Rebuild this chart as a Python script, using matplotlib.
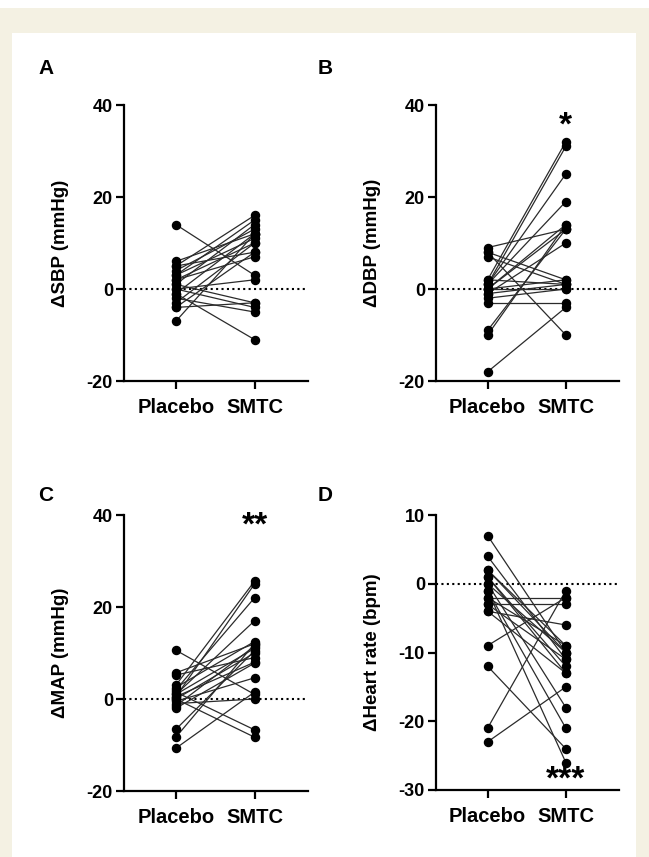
import numpy as np
import matplotlib
matplotlib.use('Agg')
import matplotlib.pyplot as plt

plt.rcParams['font.family'] = ['Liberation Sans', 'DejaVu Sans']
plt.rcParams['font.weight'] = 'bold'
plt.rcParams['axes.unicode_minus'] = False

groups = ['Placebo', 'SMTC']

# paired values per subject
sbp_placebo = [14, 6, 5, 5, 4, 3, 3, 2, 2, 1, 1, 0, 0, -1, -1, -2, -3, -4, -4, -7]
sbp_smtc = [3, 12, 16, 8, 13, 15, 11, 7, 10, -3, 14, 2, -4, 12, -11, -5, 10, 8, -3, 12]

dbp_placebo = [9, 8, 8, 7, 2, 1, 1, 1, 0, 0, 0, -1, -1, -2, -3, -9, -10, -18, 2, 0]
dbp_smtc = [13, -10, 2, 1, 32, 31, 25, 19, 14, 13, 2, 10, 1, 0, -3, 13, 14, -4, 1, 0]

map_placebo = [10.6, 5.7, 5.2, 3, 2.5, 2, 1.5, 1, 1, 0.5, 0, 0, -0.5, -1, -1.5, -2, -6.6, -8.3, -10.7, 0.5]
map_smtc = [1, 12, 9, 25.6, 12.5, 22, -6.7, 11, 17, 8, 10, -8.3, 4.6, 0, 11.5, 7.8, 10.5, 12, 1.5, 25]

hr_placebo = [7, 4, 2, 1, 0, 0, -1, -1, -3, -3, -4, -4, -9, -12, -21, -23, 2, -2, 1, -2]
hr_smtc = [-10, -11, -9, -13, -18, -10, -21, -26, -3, -11, -6, -13, -2, -24, -1, -15, -10, -9, -12, -2]

panels = [
    ('A', 'ΔSBP (mmHg)', sbp_placebo, sbp_smtc, (-20, 40), [-20, 0, 20, 40], '', None),
    ('B', 'ΔDBP (mmHg)', dbp_placebo, dbp_smtc, (-20, 40), [-20, 0, 20, 40], '*', 35.5),
    ('C', 'ΔMAP (mmHg)', map_placebo, map_smtc, (-20, 40), [-20, 0, 20, 40], '**', 37.5),
    ('D', 'ΔHeart rate (bpm)', hr_placebo, hr_smtc, (-30, 10), [-30, -20, -10, 0, 10], '***', -28.6),
]

W, H = 649, 857
fig = plt.figure(figsize=(W / 100, H / 100), dpi=100)
fig.patch.set_facecolor('white')

# beige frame with white card
bg = fig.add_axes([0, 0, 1, 1 - 8 / H], zorder=-10)
bg.set_facecolor('#f4f1e3')
bg.set_xticks([])
bg.set_yticks([])
for s in bg.spines.values():
    s.set_visible(False)
card = fig.add_axes([12 / W, 0, (636 - 12) / W, (H - 33) / H], zorder=-9)
card.set_facecolor('white')
card.set_xticks([])
card.set_yticks([])
for s in card.spines.values():
    s.set_visible(False)

# axes boxes in pixels: left, right, top, bottom
boxes = [(124, 308, 105, 381), (436, 619, 105, 381),
         (124, 308, 515, 791), (436, 619, 515, 790)]
letter_pos = [(38, 68), (318, 68), (38, 495), (318, 495)]

for (letter, ylabel, pla, smt, ylim, yticks, star, star_y), box, lp in zip(panels, boxes, letter_pos):
    l, r, t, b = box
    ax = fig.add_axes([l / W, 1 - b / H, (r - l) / W, (b - t) / H])
    ax.set_facecolor('none')
    x = np.arange(len(groups))
    for p, s in zip(pla, smt):
        ax.plot(x, [p, s], color='#2b2b2b', lw=0.9, zorder=2)
        ax.plot(x, [p, s], 'o', color='black', ms=5.8, zorder=3)
    ax.axhline(0, color='black', ls=(0, (1, 1.6)), lw=1.5, zorder=1)
    ax.set_xlim(-0.66, 1.68)
    ax.set_ylim(*ylim)
    ax.set_yticks(yticks)
    ax.set_yticklabels([str(v) for v in yticks])
    ax.set_xticks(x)
    ax.set_xticklabels(groups)
    for side in ['top', 'right']:
        ax.spines[side].set_visible(False)
    for side in ['left', 'bottom']:
        ax.spines[side].set_linewidth(1.6)
    ax.tick_params(axis='both', direction='out', length=6, width=1.6, labelsize=13)
    ax.tick_params(axis='x', pad=6, labelsize=14.5)
    ax.tick_params(axis='y', pad=2)
    ax.set_ylabel(ylabel, fontsize=13.5, fontweight='bold')
    ax.yaxis.set_label_coords(-0.30, 0.5)
    if star:
        ax.text(1, star_y, star, ha='center', va='center', fontsize=24, fontweight='bold')
    fig.text(lp[0] / W, 1 - lp[1] / H, letter, fontsize=15, fontweight='bold',
             ha='left', va='center')

fig.savefig('out.png', dpi=100)
